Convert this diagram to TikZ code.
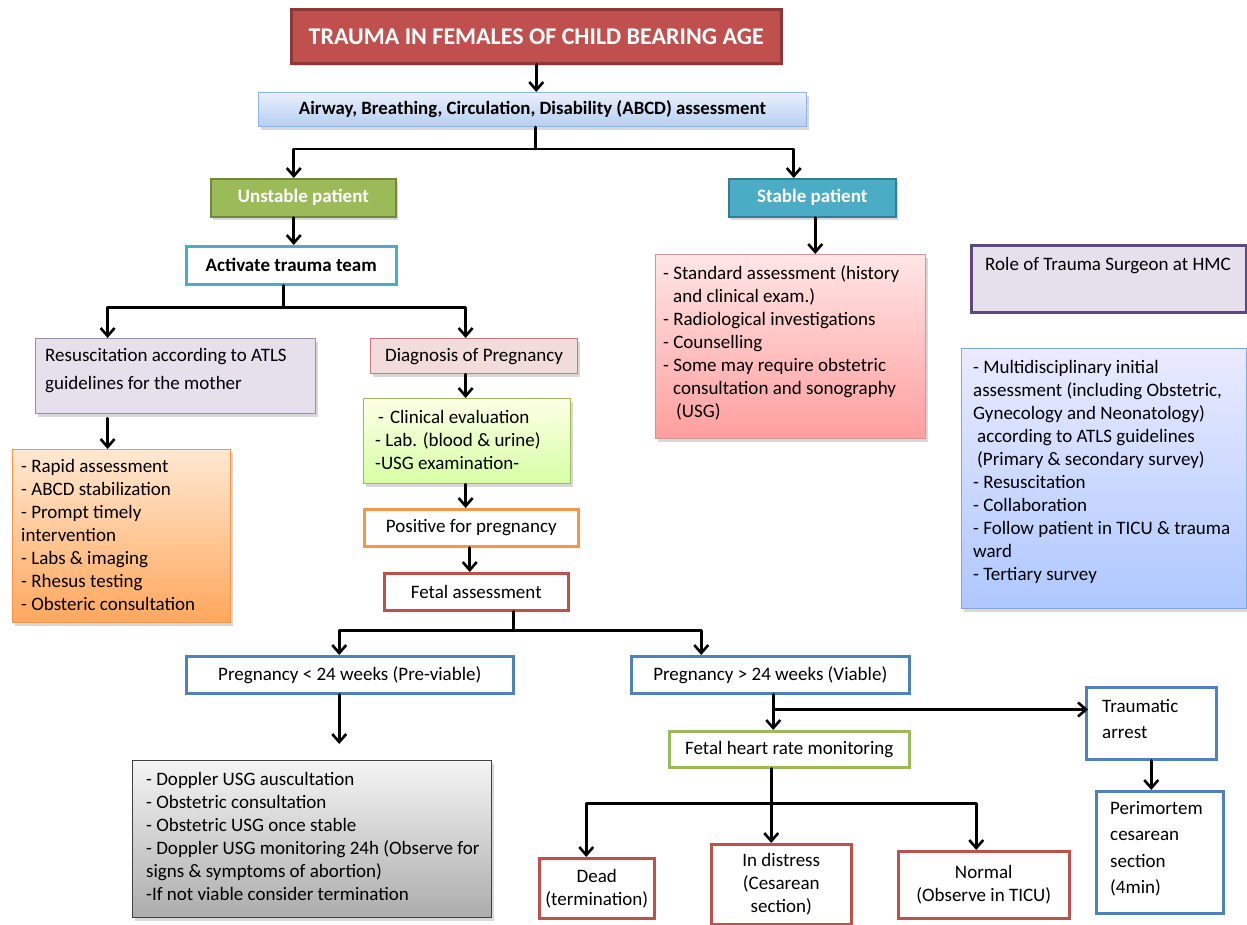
\documentclass[tikz,border=0pt]{standalone}
\usepackage{fontspec}
\setmainfont{Carlito}
\usetikzlibrary{arrows.meta,shadows}
\definecolor{cRed}{HTML}{C0504D}
\definecolor{cRedD}{HTML}{8C3836}
\definecolor{cGreen}{HTML}{9BBB59}
\definecolor{cGreenD}{HTML}{71893F}
\definecolor{cTeal}{HTML}{4BACC6}
\definecolor{cTealD}{HTML}{357D91}
\definecolor{cBlue}{HTML}{4F81BD}
\definecolor{cOrange}{HTML}{F79646}
\definecolor{cPurple}{HTML}{5F497A}
\definecolor{cLav}{HTML}{E5E0EC}
\definecolor{cLavD}{HTML}{9A8DB5}
\definecolor{cPink}{HTML}{F2DCDB}
\definecolor{cPinkD}{HTML}{C77A78}
\definecolor{cAbTop}{HTML}{EAF1FC}
\definecolor{cAbBot}{HTML}{B5CEF2}
\definecolor{cAbD}{HTML}{8EB4E3}
\tikzset{
  bx/.style={draw, rectangle, inner sep=0pt, anchor=north west, align=center,
    font=\fontsize{19}{23}\selectfont},
  shd/.style={drop shadow={shadow xshift=2pt,shadow yshift=-3pt,opacity=0.3}},
  txt/.style={inner sep=0pt, anchor=west, align=left, font=\fontsize{19}{23}\selectfont},
  ln/.style={line width=2.6pt, line cap=round, line join=round},
  arr/.style={ln, -{Straight Barb[length=8pt,width=14pt]}},
}
\begin{document}
\begin{tikzpicture}[x=1pt,y=1pt]
\useasboundingbox (0,0) rectangle (1247,-924);
\fill[white] (0,0) rectangle (1247,-924);

% boxes
\node[bx,shd,fill=cRed,draw=cRedD,line width=2.5pt,minimum width=490,minimum height=54,
  text=white,font=\fontsize{24}{26}\selectfont\bfseries] (title) at (290,-8)
  {TRAUMA IN FEMALES OF CHILD BEARING AGE};
\node[bx,shd,top color=cAbTop,bottom color=cAbBot,draw=cAbD,line width=1pt,
  minimum width=548,minimum height=34,font=\fontsize{18.8}{20}\selectfont\bfseries] (abcd) at (258,-92)
  {Airway, Breathing, Circulation, Disability (ABCD) assessment};
\node[bx,shd,fill=cGreen,draw=cGreenD,line width=1.5pt,minimum width=185,minimum height=38,
  text=white,font=\fontsize{19}{20}\selectfont\bfseries] (unstable) at (210,-178) {Unstable patient};
\node[bx,shd,fill=cTeal,draw=cTealD,line width=1.5pt,minimum width=167,minimum height=38,
  text=white,font=\fontsize{19}{20}\selectfont\bfseries] (stable) at (728,-178) {Stable patient};
\node[bx,fill=white,draw=cTeal,line width=2.5pt,minimum width=210,minimum height=38,
  font=\fontsize{19}{20}\selectfont\bfseries] (activate) at (185,-245) {Activate trauma team};
\node[bx,shd,fill=cLav,draw=cLavD,line width=1.2pt,minimum width=280,minimum height=75] (resus) at (35,-338) {};
\node[txt,font=\fontsize{19}{28}\selectfont] (resusT) at (45,-371) {Resuscitation according to ATLS\\guidelines for the mother};
\node[bx,shd,fill=cPink,draw=cPinkD,line width=1.2pt,minimum width=207,minimum height=35] (diag) at (370,-338) {Diagnosis of Pregnancy};
\node[bx,shd,top color=orange!18!white,bottom color=orange!62!white!95!red,draw=cOrange,line width=1pt,
  minimum width=218,minimum height=173] (orange) at (12,-449) {};
\node[txt] (orangeT) at (21,-535) {- Rapid assessment\\- ABCD stabilization\\- Prompt timely\\intervention\\- Labs \& imaging\\- Rhesus testing\\- Obsteric consultation};
\node[bx,shd,top color=green!8!yellow!10!white,bottom color=green!45!yellow!35!white,draw=cGreen,line width=1.2pt,
  minimum width=207,minimum height=85] (green) at (363,-398) {};
\node[txt] (greenT) at (375,-440) {\hspace*{3pt}-\hspace*{6pt}Clinical evaluation\\- Lab. (blood \& urine)\\-USG examination-};
\node[bx,fill=white,draw=cOrange,line width=2.5pt,minimum width=214,minimum height=37] (positive) at (363,-508) {Positive for pregnancy};
\node[bx,fill=white,draw=cRed,line width=2.5pt,minimum width=184,minimum height=37] (fetal) at (383,-572) {Fetal assessment};
\node[bx,fill=white,draw=cBlue,line width=2.5pt,minimum width=327,minimum height=37] (pregA) at (185,-655) {Pregnancy < 24 weeks (Pre-viable)};
\node[bx,fill=white,draw=cBlue,line width=2.5pt,minimum width=278,minimum height=37] (pregB) at (630,-655) {Pregnancy > 24 weeks (Viable)};
\node[bx,shd,top color=gray!8,bottom color=gray!65,draw=black!75,line width=1.2pt,
  minimum width=359,minimum height=157] (gray) at (132,-760) {};
\node[txt] (grayT) at (146,-836) {- Doppler USG auscultation\\- Obstetric consultation\\- Obstetric USG once stable\\- Doppler USG monitoring 24h (Observe for\\signs \& symptoms of abortion)\\-If not viable consider termination};
\node[bx,fill=white,draw=cGreen,line width=2.5pt,minimum width=240,minimum height=36] (fhr) at (668,-730) {Fetal heart rate monitoring};
\node[bx,fill=white,draw=cRed,line width=2.5pt,minimum width=115,minimum height=60] (dead) at (538,-857) {Dead\\(termination)};
\node[bx,fill=white,draw=cRed,line width=2.5pt,minimum width=140,minimum height=80] (distress) at (710,-843) {In distress\\(Cesarean\\section)};
\node[bx,fill=white,draw=cRed,line width=2.5pt,minimum width=171,minimum height=67] (normal) at (897,-850) {Normal\\(Observe in TICU)};
\node[bx,fill=white,draw=cBlue,line width=2.5pt,minimum width=130,minimum height=72] (traum) at (1085,-686) {};
\node[txt,font=\fontsize{19}{26}\selectfont] (traumT) at (1102,-719) {Traumatic\\arrest};
\node[bx,fill=white,draw=cBlue,line width=2.5pt,minimum width=127,minimum height=122] (peri) at (1095,-790) {};
\node[txt,font=\fontsize{19}{26.5}\selectfont] (periT) at (1110,-849) {Perimortem\\cesarean\\section\\(4min)};
\node[bx,shd,top color=red!10!white,bottom color=red!38!white,draw=cPinkD!80,line width=1pt,
  minimum width=270,minimum height=184] (pink) at (655,-254) {};
\node[txt] (pinkT) at (663,-343) {- Standard assessment (history\\\hspace*{10pt}and clinical exam.)\\- Radiological investigations\\- Counselling\\- Some may require obstetric\\\hspace*{10pt}consultation and sonography\\\hspace*{13pt}(USG)};
\node[bx,fill=cLav,draw=cPurple,line width=2.5pt,minimum width=275,minimum height=67] (role) at (970,-244) {};
\node[txt] (roleT) at (985,-266) {Role of Trauma Surgeon at HMC};
\node[bx,shd,top color=blue!8!white,bottom color=blue!40!cyan!20!white!85!blue,draw=cBlue!70,line width=1pt,
  minimum width=285,minimum height=260] (blue) at (961,-348) {};
\node[txt] (blueT) at (973,-472) {- Multidisciplinary initial\\assessment (including Obstetric,\\Gynecology and Neonatology)\\\hspace*{4pt}according to ATLS guidelines\\\hspace*{4pt}(Primary \& secondary survey)\\- Resuscitation\\- Collaboration\\- Follow patient in TICU \& trauma\\ward\\- Tertiary survey};

% connectors
\draw[arr] (title.south) -- (title.south |- abcd.north);
\draw[ln] ([xshift=3pt]abcd.south) -- ++(0,-22) coordinate (j1);
\draw[arr] (j1) -| ([xshift=-9.5pt]unstable.north);
\draw[arr] (j1) -| ([xshift=-18.5pt]stable.north);
\draw[arr] ([xshift=-9.5pt]unstable.south) -- ([xshift=-9.5pt]unstable.south |- activate.north);
\draw[arr] ([xshift=3pt]stable.south) -- ([xshift=3pt]stable.south |- pink.north);
\draw[ln] ([xshift=-8pt]activate.south) -- ++(0,-22) coordinate (j2);
\draw[arr] (j2) -| ([xshift=-68pt]resus.north);
\draw[arr] (j2) -| ([xshift=-8.5pt]diag.north);
\draw[arr] ([xshift=-68pt,yshift=-4pt]resus.south) -- ([xshift=-68pt]resus.south |- orange.north);
\draw[arr] ([xshift=-8.5pt]diag.south) -- ([xshift=-8.5pt]diag.south |- green.north);
\draw[arr] ([xshift=-1.5pt]green.south) -- ([xshift=-1.5pt]green.south |- positive.north);
\draw[arr] ([xshift=-1.5pt]positive.south) -- ([xshift=-1.5pt]positive.south |- fetal.north);
\draw[ln] ([xshift=37pt]fetal.south) -- ++(0,-19) coordinate (j3);
\draw[arr] (j3) -| ([xshift=-10.5pt]pregA.north);
\draw[arr] (j3) -| ([xshift=-69pt]pregB.north);
\draw[arr,shorten >=16pt] ([xshift=-10.5pt]pregA.south) -- ([xshift=-10.5pt]pregA.south |- gray.north);
\draw[arr] ([xshift=3pt]pregB.south) -- ([xshift=3pt]pregB.south |- fhr.north);
\draw[arr] ([xshift=3pt,yshift=-15pt]pregB.south) -- ([xshift=3pt,yshift=-15pt]pregB.south -| traum.west);
\draw[ln] ([xshift=-18pt]fhr.south) -- ++(0,-35) coordinate (j4);
\draw[arr] (j4) -| ([xshift=-10.5pt]dead.north);
\draw[arr] (j4) -- (j4 |- distress.north);
\draw[arr] (j4) -| ([xshift=-7.5pt]normal.north);
\draw[arr] (traum.south) -- (traum.south |- peri.north);
\end{tikzpicture}
\end{document}
